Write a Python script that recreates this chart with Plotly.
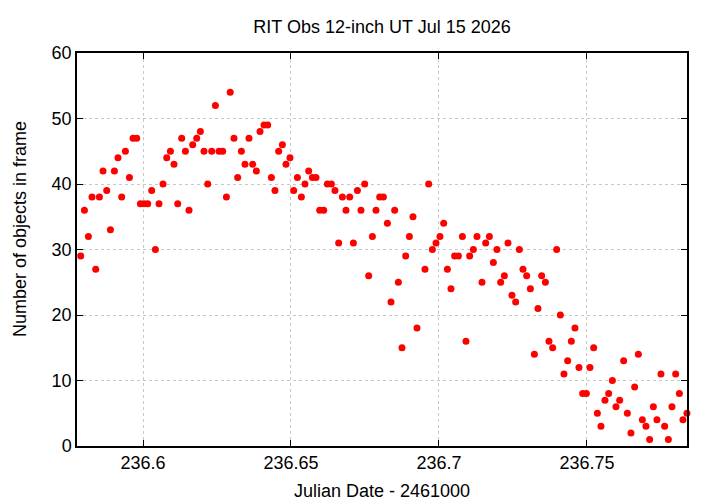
import plotly.graph_objects as go

# Julian Date - 2461000, one value per frame
jd = [236.57895, 236.58020, 236.58155, 236.58277, 236.58402, 236.58527, 236.58649, 236.58774,
      236.58899, 236.59034, 236.59155, 236.59280, 236.59405, 236.59541, 236.59662, 236.59787,
      236.59912, 236.60034, 236.60159, 236.60294, 236.60419, 236.60541, 236.60676, 236.60801,
      236.60926, 236.61047, 236.61172, 236.61307, 236.61432, 236.61554, 236.61679, 236.61814,
      236.61939, 236.62061, 236.62186, 236.62321, 236.62446, 236.62568, 236.62693, 236.62818,
      236.62946, 236.63074, 236.63199, 236.63324, 236.63446, 236.63581, 236.63706, 236.63831,
      236.63953, 236.64088, 236.64213, 236.64338, 236.64459, 236.64584, 236.64709, 236.64831,
      236.64966, 236.65091, 236.65216, 236.65351, 236.65473, 236.65598, 236.65723, 236.65845,
      236.65970, 236.66105, 236.66230, 236.66365, 236.66486, 236.66611, 236.66736, 236.66858,
      236.66983, 236.67108, 236.67243, 236.67365, 236.67490, 236.67625, 236.67750, 236.67872,
      236.67997, 236.68122, 236.68257, 236.68378, 236.68503, 236.68628, 236.68750, 236.68875,
      236.69000, 236.69122, 236.69257, 236.69527, 236.69652, 236.69777, 236.69899, 236.70034,
      236.70159, 236.70284, 236.70405, 236.70530, 236.70655, 236.70791, 236.70912, 236.71037,
      236.71162, 236.71284, 236.71453, 236.71578, 236.71703, 236.71838, 236.71959, 236.72084,
      236.72209, 236.72331, 236.72466, 236.72591, 236.72716, 236.72838, 236.72963, 236.73088,
      236.73223, 236.73345, 236.73470, 236.73595, 236.73716, 236.73841, 236.73976, 236.74101,
      236.74223, 236.74348, 236.74473, 236.74595, 236.74730, 236.74855, 236.74980, 236.75101,
      236.75226, 236.75351, 236.75473, 236.75608, 236.75733, 236.75858, 236.75980, 236.76105,
      236.76240, 236.76365, 236.76486, 236.76611, 236.76736, 236.76872, 236.76993, 236.77118,
      236.77243, 236.77365, 236.77500, 236.77625, 236.77750, 236.77872, 236.77997, 236.78122,
      236.78243, 236.78378]

# number of objects detected in each frame
nobj = [29, 36, 32, 38, 27, 38, 42, 39, 33, 42, 44, 38, 45, 41, 47, 47,
        37, 37, 37, 39, 30, 37, 40, 44, 45, 43, 37, 47, 45, 36, 46, 47,
        48, 45, 40, 45, 52, 45, 45, 38, 54, 47, 41, 45, 43, 47, 43, 42,
        48, 49, 49, 41, 39, 45, 46, 43, 44, 39, 41, 38, 40, 42, 41, 41,
        36, 36, 40, 40, 39, 31, 38, 36, 38, 31, 39, 36, 40, 26, 32, 36,
        38, 38, 34, 22, 36, 25, 15, 29, 32, 35, 18, 27, 40, 30, 31, 32,
        34, 27, 24, 29, 29, 32, 16, 29, 30, 32, 25, 31, 32, 28, 30, 25,
        26, 31, 23, 22, 30, 27, 26, 24, 14, 21, 26, 25, 16, 15, 30, 20,
        11, 13, 16, 18, 12, 8, 8, 12, 15, 5, 3, 7, 8, 10, 6, 7,
        13, 5, 2, 9, 14, 4, 3, 1, 6, 4, 11, 3, 1, 6, 11, 8,
        4, 5]

x_ticks = [236.6, 236.65, 236.7, 236.75]
x_ticktext = ["236.6", "236.65", "236.7", "236.75"]

# page body has an 8px margin, so the figure is drawn slightly smaller
W, H = 712, 496
ML, MR, MT, MB = 69, 33, 45, 58
PW, PH = W - ML - MR, H - MT - MB

fig = go.Figure()
fig.add_trace(go.Scatter(x=jd, y=nobj, mode="markers",
                         marker=dict(color="#ff0000", size=7, line=dict(width=0)),
                         cliponaxis=False, showlegend=False))

axis_common = dict(showline=True, linecolor="black", linewidth=1.5, mirror="allticks",
                   ticks="inside", ticklen=6, tickcolor="black", tickwidth=1,
                   showgrid=True, gridcolor="#c8c8c8", griddash="dot", gridwidth=1,
                   zeroline=False, automargin=False, tickfont=dict(size=18, color="black"))

fig.update_xaxes(range=[236.5777, 236.7838], tickvals=x_ticks, ticktext=x_ticktext,
                 **axis_common)
fig.update_yaxes(range=[0, 60], dtick=10, **axis_common)

# axis titles placed as annotations (gnuplot-like positions)
fig.add_annotation(text="Julian Date - 2461000", xref="paper", yref="paper",
                   x=0.5, y=-(483 - (MT + PH)) / PH, yanchor="middle", showarrow=False,
                   font=dict(size=18, color="black"))
fig.add_annotation(text="Number of objects in frame", xref="paper", yref="paper",
                   x=-(ML - 12) / PW, y=1 - (221 - MT) / PH, textangle=-90,
                   xanchor="center", yanchor="middle", showarrow=False,
                   font=dict(size=18, color="black"))

fig.update_layout(width=W, height=H,
                  margin=dict(l=ML, r=MR, t=MT, b=MB),
                  plot_bgcolor="white", paper_bgcolor="white",
                  font=dict(family="Liberation Sans, Arial, sans-serif", size=18, color="black"),
                  title=dict(text="RIT Obs 12-inch UT Jul 15 2026", x=0.5,
                             xanchor="center", xref="paper",
                             y=1 - 19 / H, yanchor="middle",
                             font=dict(size=18, color="black")))

fig.write_html("out.html")
